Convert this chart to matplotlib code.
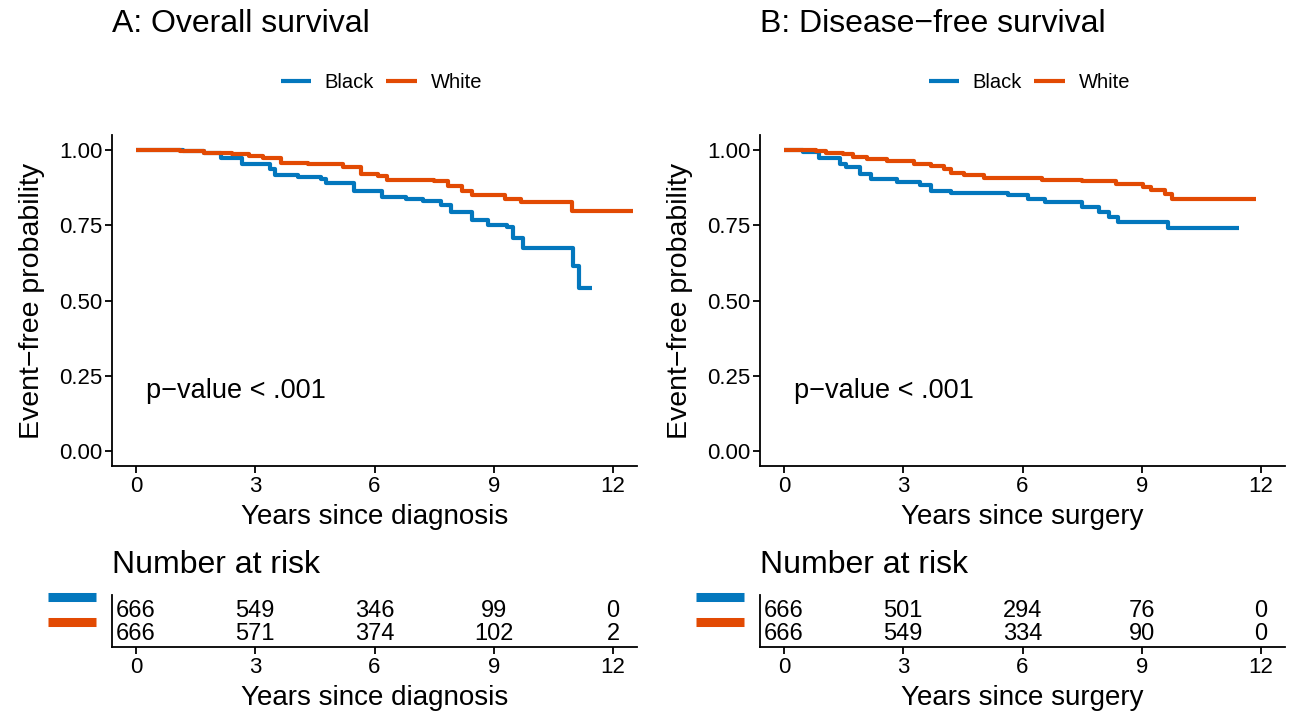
import numpy as np
import matplotlib
matplotlib.use("Agg")
import matplotlib.pyplot as plt
from matplotlib.lines import Line2D

plt.rcParams['font.family'] = ['Liberation Sans', 'DejaVu Sans']

blue = "#0377BD"
orange = "#E24A03"
groups = ["Black", "White"]

# Panel A: overall survival (step points)
os_black_t = [0, 1.18, 1.71, 2.15, 2.67, 3.37, 3.51, 4.08, 4.65, 4.78, 5.48, 6.18, 6.79, 7.23,
              7.67, 7.93, 8.46, 8.85, 9.33, 9.47, 9.73, 11.0, 11.13, 11.48]
os_black_s = [1.0, 0.997, 0.991, 0.975, 0.953, 0.936, 0.917, 0.909, 0.904, 0.889, 0.865, 0.843,
              0.838, 0.832, 0.816, 0.794, 0.766, 0.750, 0.745, 0.709, 0.673, 0.613, 0.543, 0.543]
os_white_t = [0, 1.1, 1.71, 2.41, 2.85, 3.2, 3.64, 4.34, 5.22, 5.65, 6.09, 6.31, 7.49, 7.84,
              8.2, 8.46, 9.29, 9.69, 10.96, 12.49]
os_white_s = [1.0, 0.997, 0.991, 0.986, 0.980, 0.973, 0.958, 0.953, 0.944, 0.922, 0.914, 0.900,
              0.896, 0.882, 0.865, 0.849, 0.838, 0.827, 0.796, 0.796]

# Panel B: disease-free survival
dfs_black_t = [0, 0.47, 0.89, 1.40, 1.57, 1.91, 2.2, 2.84, 3.43, 3.69, 4.2, 5.64, 6.15, 6.57,
               7.5, 7.93, 8.18, 8.39, 9.67, 11.45]
dfs_black_s = [1.0, 0.995, 0.975, 0.953, 0.942, 0.922, 0.904, 0.893, 0.885, 0.865, 0.857, 0.849,
               0.838, 0.827, 0.810, 0.794, 0.777, 0.761, 0.742, 0.742]
dfs_white_t = [0, 0.81, 1.06, 1.48, 1.74, 2.08, 2.59, 3.26, 3.69, 4.03, 4.2, 4.54, 5.04, 6.49,
               7.5, 8.35, 9.03, 9.24, 9.58, 9.75, 11.87]
dfs_white_s = [1.0, 0.997, 0.991, 0.986, 0.977, 0.969, 0.962, 0.955, 0.947, 0.936, 0.925, 0.918,
               0.907, 0.901, 0.896, 0.887, 0.878, 0.867, 0.854, 0.836, 0.836]

risk_times = [0, 3, 6, 9, 12]
os_risk_black = [666, 549, 346, 99, 0]
os_risk_white = [666, 571, 374, 102, 2]
dfs_risk_black = [666, 501, 294, 76, 0]
dfs_risk_white = [666, 549, 334, 90, 0]

W, H = 1298, 713
fig = plt.figure(figsize=(W / 100, H / 100), dpi=100)


def fx(px):
    return px / W


def fy(py):
    return 1 - py / H


def style_axis(ax):
    for s in ["top", "right"]:
        ax.spines[s].set_visible(False)
    for s in ["left", "bottom"]:
        ax.spines[s].set_linewidth(1.3)
    ax.tick_params(length=5, width=1.3, labelsize=16, colors="black", pad=2)


def panel(x0, title, xlabel, curves, risk):
    # main KM plot
    ax = fig.add_axes([fx(x0), fy(466), fx(525), (466 - 135) / H])
    for (t, s), col, lab in zip(curves, [blue, orange], groups):
        ax.step(t, s, where="post", color=col, lw=3, label=lab, solid_capstyle="butt")
    ax.set_xlim(-0.6, 12.6)
    ax.set_ylim(-0.05, 1.05)
    ax.set_xticks(risk_times)
    ax.set_yticks([0, 0.25, 0.5, 0.75, 1.0])
    ax.set_yticklabels(["0.00", "0.25", "0.50", "0.75", "1.00"])
    style_axis(ax)
    ax.set_xlabel(xlabel, fontsize=20, labelpad=5)
    ax.set_ylabel("Event\u2212free probability", fontsize=20.5, labelpad=10)
    ax.text(0.25, 0.2, "p\u2212value < .001", fontsize=19.5, va="center", ha="left")
    fig.text(fx(x0), fy(24), title, fontsize=23, va="center", ha="left")
    ax.legend(loc="center", bbox_to_anchor=(0.513, (466 - 83) / (466 - 135)), ncol=2,
              frameon=False, fontsize=14.5, handlelength=1.5, handletextpad=0.7,
              columnspacing=0.6)

    # number at risk table
    rt = fig.add_axes([fx(x0), fy(647), fx(525), (647 - 595) / H])
    rt.set_xlim(-0.6, 12.6)
    rt.set_ylim(0, 1)
    for vals, yy in zip(risk, [0.69, 0.245]):
        for t, v in zip(risk_times, vals):
            rt.text(t, yy, str(v), fontsize=17, ha="center", va="center")
    rt.set_xticks(risk_times)
    rt.set_yticks([])
    style_axis(rt)
    rt.set_xlabel(xlabel, fontsize=20, labelpad=5)
    fig.text(fx(x0), fy(565), "Number at risk", fontsize=23, va="center", ha="left")
    for col, yy in zip([blue, orange], [597, 622]):
        fig.add_artist(Line2D([fx(x0 - 64), fx(x0 - 16)], [fy(yy), fy(yy)], color=col, lw=6.5,
                              solid_capstyle="butt"))


panel(112, "A: Overall survival", "Years since diagnosis",
      [(os_black_t, os_black_s), (os_white_t, os_white_s)], [os_risk_black, os_risk_white])
panel(760, "B: Disease\u2212free survival", "Years since surgery",
      [(dfs_black_t, dfs_black_s), (dfs_white_t, dfs_white_s)], [dfs_risk_black, dfs_risk_white])

fig.savefig("out.png", dpi=100)
